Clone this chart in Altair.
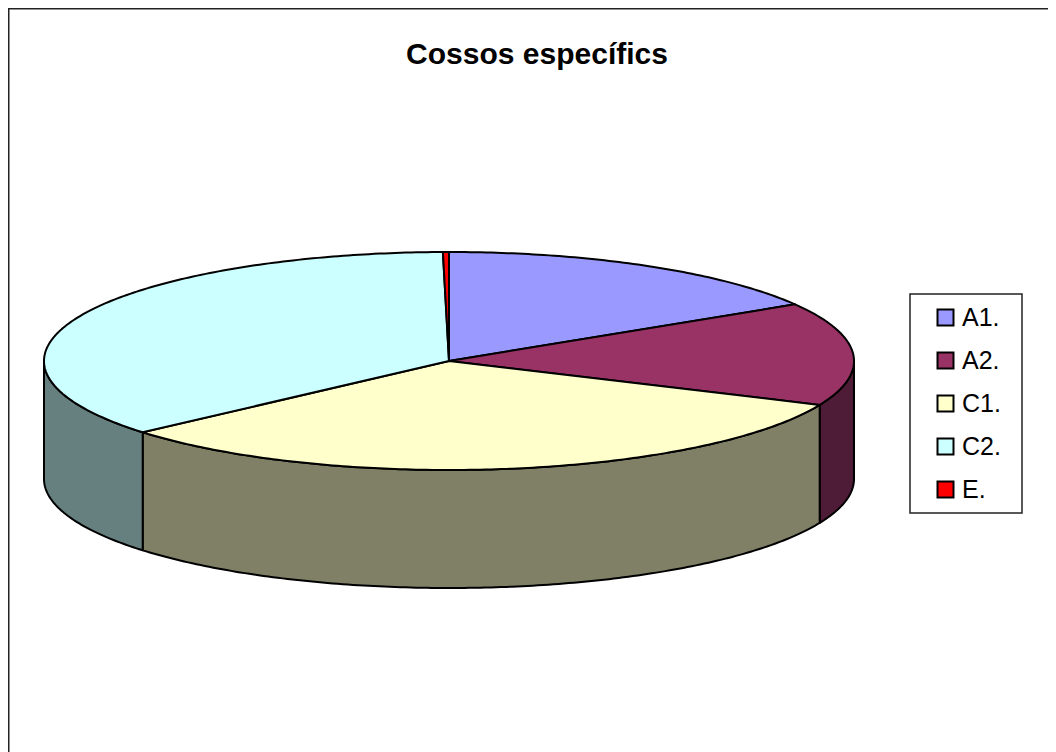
import math
import altair as alt
import pandas as pd

categories = ["A1.", "A2.", "C1.", "C2.", "E."]
shares = [16.3, 15.3, 32.05, 36.11, 0.24]
top_colors = ["#9999FF", "#993366", "#FFFFCC", "#CCFFFF", "#FF0000"]
wall_colors = ["#4C1933", "#4F1C37", "#808066", "#668080", "#800000"]

W, H = 1040, 744
CX, CY, RX, RY, DEPTH = 441, 353, 405, 109, 118

xdom = [(0 - CX) / RX, (W - CX) / RX]
ydom = [(H - CY) / RY, (0 - CY) / RY]
x_scale = alt.Scale(domain=xdom, range=[0, W], nice=False, zero=False)
y_scale = alt.Scale(domain=ydom, range=[H, 0], nice=False, zero=False)

top_rows, wall_rows = [], []
start = 0.0
total = sum(shares)
for cat, share, wc in zip(categories, shares, wall_colors):
    end = start + share / total * 360
    n = max(2, int((end - start) / 0.75))
    arc = [start + (end - start) * i / n for i in range(n + 1)]
    pts = [(0.0, 0.0)] + [(math.sin(math.radians(t)), -math.cos(math.radians(t))) for t in arc] + [(0.0, 0.0)]
    for i, (px, py) in enumerate(pts):
        top_rows.append({"cat": cat, "i": i, "x": px, "y": py})
    a, b = max(start, 90), min(end, 270)
    if a < b:
        m = max(2, int((b - a) / 0.75))
        vis = [a + (b - a) * i / m for i in range(m + 1)]
        up = [(math.sin(math.radians(t)), -math.cos(math.radians(t))) for t in vis]
        dn = [(px, py + DEPTH / RY) for px, py in reversed(up)]
        ring = up + dn + [up[0]]
        for i, (px, py) in enumerate(ring):
            wall_rows.append({"cat": cat, "i": i, "x": px, "y": py, "wall": wc})
    start = end

top_df = pd.DataFrame(top_rows)
wall_df = pd.DataFrame(wall_rows)

X = alt.X("x:Q", scale=x_scale, axis=None)
Y = alt.Y("y:Q", scale=y_scale, axis=None)

walls = alt.Chart(wall_df).mark_line(stroke="black", strokeWidth=2, strokeJoin="round", clip=True).encode(
    x=X, y=Y, order="i:Q", detail="cat:N",
    fill=alt.Fill("wall:N", scale=None, legend=None),
)

tops = alt.Chart(top_df).mark_line(stroke="black", strokeWidth=2, strokeJoin="round", clip=True).encode(
    x=X, y=Y, order="i:Q",
    fill=alt.Fill(
        "cat:N",
        scale=alt.Scale(domain=categories, range=top_colors),
        legend=alt.Legend(
            title=None, orient="none", legendX=902, legendY=286, padding=11,
            symbolType="square", symbolSize=256, symbolStrokeColor="black",
            symbolStrokeWidth=2, symbolOffset=12, labelOffset=4,
            labelFont="Liberation Sans", labelFontSize=25, labelColor="black",
            rowPadding=17,
        ),
    ),
)

legend_box = alt.Chart().mark_rect(fill="white", stroke="#222222", strokeWidth=1.5).encode(
    x=alt.value(902), x2=alt.value(1014), y=alt.value(286), y2=alt.value(505)
)
frame_top = alt.Chart().mark_rule(stroke="#222222", strokeWidth=2).encode(
    x=alt.value(0), x2=alt.value(W), y=alt.value(0.5)
)
frame_left = alt.Chart().mark_rule(stroke="#222222", strokeWidth=2).encode(
    y=alt.value(0), y2=alt.value(H), x=alt.value(0.5)
)

chart = (
    alt.layer(walls, tops, legend_box, frame_top, frame_left)
    .resolve_scale(fill="independent")
    .properties(
        width=W, height=H, padding=0, background="white",
        autosize=alt.AutoSizeParams(type="none"),
        title=alt.TitleParams(
            "Cossos específics", font="Liberation Sans", fontSize=30, fontWeight="bold",
            color="black", anchor="middle", offset=-63, dx=9,
        ),
    )
    .configure_view(stroke=None)
)

chart.save("out.html", embed_options={"renderer": "svg", "actions": False})
